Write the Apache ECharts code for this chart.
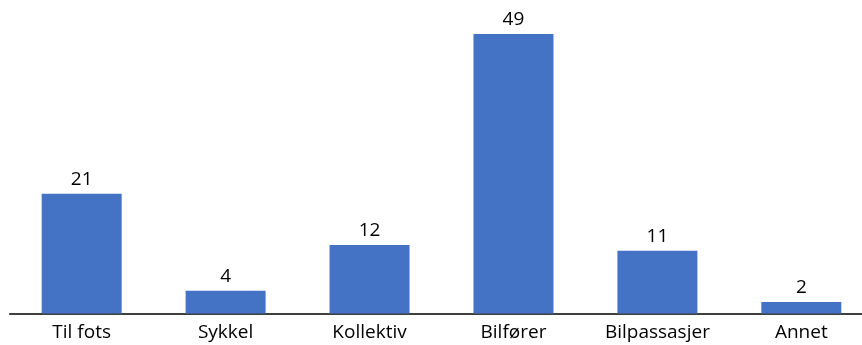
<!DOCTYPE html>
<html>
<head>
<meta charset="utf-8">
<script src="https://cdn.jsdelivr.net/npm/echarts@6/dist/echarts.min.js"></script>
<style>
  html, body { margin: 0; padding: 0; background: #fff; overflow: hidden; width: 862px; height: 345px; }
  #chart { width: 874px; height: 345px; }
</style>
</head>
<body>
<div id="chart"></div>
<script>
// Reisemåte – andel (%)
const categories = ['Til fots', 'Sykkel', 'Kollektiv', 'Bilfører', 'Bilpassasjer', 'Annet'];
const values = [21, 4, 12, 49, 11, 2];

const chart = echarts.init(document.getElementById('chart'));
chart.setOption({
  animation: false,
  grid: { left: 9.7, right: 0.7, top: 34, bottom: 31.5, containLabel: false },
  xAxis: {
    type: 'category',
    data: categories,
    axisTick: { show: false },
    axisLine: { lineStyle: { color: '#000', width: 1.5 } },
    axisLabel: {
      color: '#000',
      fontFamily: 'Open Sans',
      fontSize: 19,
      margin: 10
    }
  },
  yAxis: {
    type: 'value',
    min: 0,
    max: 49,
    show: false,
    splitLine: { show: false }
  },
  series: [{
    type: 'bar',
    data: values,
    barWidth: 80,
    itemStyle: { color: '#4472C4' },
    label: {
      show: true,
      position: 'top',
      distance: 5,
      color: '#000',
      fontFamily: 'Open Sans',
      fontSize: 19
    }
  }]
});
</script>
</body>
</html>
